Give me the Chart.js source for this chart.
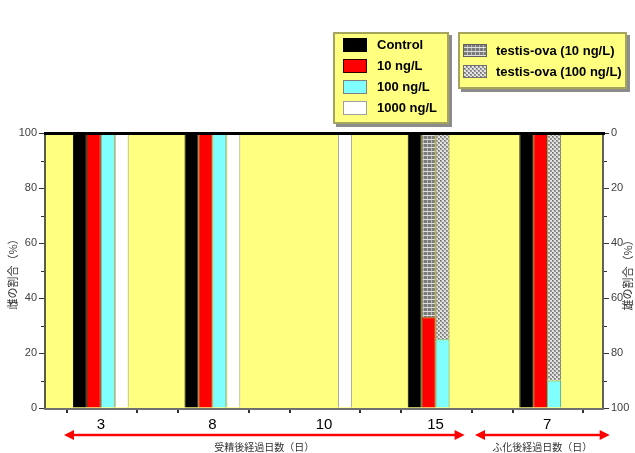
<!DOCTYPE html>
<html><head><meta charset="utf-8">
<script src="https://cdn.jsdelivr.net/npm/chart.js@4"></script>
<style>html,body{margin:0;padding:0;background:#fff;} canvas{display:block;}</style>
</head><body>
<canvas id="c" width="635" height="453"></canvas>
<script>
// ---- data ----
const categories = ['3', '8', '10', '15', '7'];
const controlValues = [100, 100, null, 100, 100];
const ng10Values = [100, 100, null, 33, 100];
const testisOva10Values = [null, null, null, 67, null];
const ng100Values = [100, 100, null, 25, 10];
const testisOva100Values = [null, null, null, 75, 90];
const ng1000Values = [100, 100, 100, null, null];
const leftTickValues = [0, 20, 40, 60, 80, 100];
const rightTickValues = [0, 20, 40, 60, 80, 100];
const seriesLabels = ['Control', '10 ng/L', 'testis-ova (10 ng/L)', '100 ng/L', 'testis-ova (100 ng/L)', '1000 ng/L'];
const leftAxisTitle = '雌の割合（%）';
const rightAxisTitle = '雄の割合（%）';
const periodLabels = ['受精後経過日数（日）', 'ふ化後経過日数（日）'];

// ---- styles ----
const canvas = document.getElementById('c');
const mainCtx = canvas.getContext('2d');
function makePattern(draw) {
  const c = document.createElement('canvas'); c.width = 4; c.height = 4;
  const g = c.getContext('2d'); draw(g);
  return mainCtx.createPattern(c, 'repeat');
}
const gridPattern = makePattern(g => {
  g.fillStyle = '#7a7a7a'; g.fillRect(0, 0, 4, 4);
  g.fillStyle = '#b4b4b4'; g.fillRect(3, 0, 1, 4);
  g.fillStyle = '#e0e0e0'; g.fillRect(0, 3, 4, 1);
});
const checkPattern = makePattern(g => {
  g.fillStyle = '#e2e2e2'; g.fillRect(0, 0, 4, 4);
  g.fillStyle = '#9a9a9a'; g.fillRect(0, 0, 2, 2); g.fillRect(2, 2, 2, 2);
  g.fillStyle = '#6e6e6e'; g.fillRect(0, 0, 1, 1); g.fillRect(2, 2, 1, 1);
});
const YELLOW = '#ffff80';
const LATIN = '"Liberation Sans", Arial, sans-serif';
const CJK = '"Noto Sans CJK JP", sans-serif';

const fills = ['#000000', '#ff0000', gridPattern, '#80ffff', checkPattern, '#ffffff'];
const borders = ['#000000', '#8a0000', '#505050', '#40a0a0', '#707070', '#a0a0a0'];
const swatchBorders = ['#000000', '#300000', '#606060', '#808080', '#707070', '#a0a0a0'];
const stacks = ['s1', 's2', 's2', 's3', 's3', 's4'];
const seriesData = [controlValues, ng10Values, testisOva10Values, ng100Values, testisOva100Values, ng1000Values];

const datasets = seriesData.map((d, i) => ({
  label: seriesLabels[i], data: d, stack: stacks[i],
  backgroundColor: fills[i], borderColor: borders[i], borderWidth: 1
}));

function drawBox(ctx, x, y, w, h) {
  ctx.fillStyle = '#8c8c8c'; ctx.fillRect(x + 3, y + 3, w, h);
  ctx.fillStyle = YELLOW; ctx.fillRect(x, y, w, h);
  ctx.strokeStyle = '#a4a45c'; ctx.lineWidth = 2; ctx.strokeRect(x + 1, y + 1, w - 2, h - 2);
}
function drawArrow(ctx, x1, x2, y) {
  ctx.strokeStyle = '#ffc8c8'; ctx.lineWidth = 4;
  ctx.beginPath(); ctx.moveTo(x1 + 6, y); ctx.lineTo(x2 - 6, y); ctx.stroke();
  ctx.strokeStyle = '#ff0000'; ctx.fillStyle = '#ff0000'; ctx.lineWidth = 2;
  ctx.beginPath(); ctx.moveTo(x1 + 6, y); ctx.lineTo(x2 - 6, y); ctx.stroke();
  ctx.beginPath(); ctx.moveTo(x1, y); ctx.lineTo(x1 + 10, y - 5); ctx.lineTo(x1 + 10, y + 5); ctx.closePath(); ctx.fill();
  ctx.beginPath(); ctx.moveTo(x2, y); ctx.lineTo(x2 - 10, y - 5); ctx.lineTo(x2 - 10, y + 5); ctx.closePath(); ctx.fill();
}

const decor = {
  id: 'decor',
  beforeDatasetsDraw(chart) {
    const {ctx, chartArea: a} = chart;
    ctx.save(); ctx.fillStyle = YELLOW; ctx.fillRect(a.left, a.top, a.right - a.left, a.bottom - a.top); ctx.restore();
  },
  afterDatasetsDraw(chart) {
    const {ctx, chartArea: a, scales} = chart;
    ctx.save();
    ctx.fillStyle = '#5c5c40'; ctx.fillRect(a.left - 1, a.top, 2, a.bottom - a.top + 2);
    ctx.fillStyle = '#606060'; ctx.fillRect(a.right - 1, a.top, 2, a.bottom - a.top + 2);
    ctx.fillStyle = '#707070'; ctx.fillRect(a.left - 1, a.bottom, a.right - a.left + 2, 2);
    ctx.fillStyle = '#000000'; ctx.fillRect(a.left - 1, a.top - 1, a.right - a.left + 3, 3);
    ctx.fillStyle = '#303030';
    [10, 30, 50, 70, 90].forEach(v => {
      const py = Math.round(scales.y.getPixelForValue(v));
      ctx.fillRect(a.left - 4, py, 3, 1);
      ctx.fillRect(a.right + 1, py, 3, 1);
    });
    const w = (a.right - a.left) / categories.length;
    categories.forEach((c, i) => {
      const cx = scales.x.getPixelForValue(i);
      [-0.315, 0.315].forEach(f => ctx.fillRect(Math.round(cx + f * w), a.bottom + 2, 2, 3));
    });
    ctx.restore();
  },
  afterDraw(chart) {
    const {ctx, chartArea: a, scales} = chart;
    const w = (a.right - a.left) / categories.length;
    ctx.save();
    const x0 = scales.x.getPixelForValue(0), x3 = scales.x.getPixelForValue(3), x4 = scales.x.getPixelForValue(4);
    const L1 = x0 - 0.33 * w, R1 = x3 + 0.26 * w, L2 = x4 - 0.647 * w, R2 = x4 + 0.56 * w;
    drawArrow(ctx, L1, R1, 435);
    drawArrow(ctx, L2, R2, 435);
    ctx.fillStyle = '#333333'; ctx.font = '10px ' + CJK; ctx.textAlign = 'center'; ctx.textBaseline = 'middle';
    ctx.fillText(periodLabels[0], (L1 + R1) / 2, 447);
    ctx.fillText(periodLabels[1], (L2 + R2) / 2, 447);
    ctx.font = '11px ' + CJK; ctx.fillStyle = '#333333';
    ctx.save(); ctx.translate(13, (a.top + a.bottom) / 2 + 1); ctx.rotate(-Math.PI / 2); ctx.fillText(leftAxisTitle, 0, 0); ctx.restore();
    ctx.save(); ctx.translate(628, (a.top + a.bottom) / 2 + 2); ctx.rotate(-Math.PI / 2); ctx.fillText(rightAxisTitle, 0, 0); ctx.restore();
    drawBox(ctx, 333, 32, 116, 92);
    drawBox(ctx, 458, 32, 169, 57);
    ctx.font = 'bold 13px ' + LATIN; ctx.textAlign = 'left'; ctx.textBaseline = 'middle';
    const box1 = [0, 1, 3, 5], box2 = [2, 4];
    box1.forEach((k, j) => {
      const y = 38 + j * 21;
      ctx.fillStyle = fills[k]; ctx.fillRect(343, y, 24, 14);
      ctx.strokeStyle = swatchBorders[k]; ctx.lineWidth = 1; ctx.strokeRect(343.5, y + 0.5, 23, 13);
      ctx.fillStyle = '#000000'; ctx.fillText(chart.data.datasets[k].label, 377, y + 7.5);
    });
    box2.forEach((k, j) => {
      const y = 44 + j * 21;
      ctx.fillStyle = fills[k]; ctx.fillRect(463, y, 24, 13);
      ctx.strokeStyle = swatchBorders[k]; ctx.lineWidth = 1; ctx.strokeRect(463.5, y + 0.5, 23, 12);
      ctx.fillStyle = '#000000'; ctx.fillText(chart.data.datasets[k].label, 496, y + 7);
    });
    ctx.restore();
  }
};

new Chart(canvas, {
  type: 'bar',
  data: { labels: categories, datasets },
  options: {
    responsive: false, devicePixelRatio: 1, animation: false,
    layout: { padding: { top: 133, left: 0, right: 0, bottom: 0 } },
    plugins: { legend: { display: false }, tooltip: { enabled: false } },
    datasets: { bar: { categoryPercentage: 0.5, barPercentage: 1 } },
    scales: {
      x: {
        stacked: true,
        grid: { display: false, drawTicks: false }, border: { display: false },
        ticks: { color: '#000000', font: { size: 15, family: LATIN }, padding: 8, maxRotation: 0, autoSkip: false },
        afterFit(s) { s.height = 45; }
      },
      y: {
        stacked: true, position: 'left', min: 0, max: 100,
        afterBuildTicks(s) { s.ticks = leftTickValues.map(v => ({ value: v })); },
        ticks: { color: '#404040', font: { size: 11, family: LATIN }, padding: 2 },
        grid: { drawOnChartArea: false, tickLength: 6, color: '#303030' }, border: { display: false },
        afterFit(s) { s.width = 45; }
      },
      y1: {
        position: 'right', reverse: true, min: 0, max: 100,
        afterBuildTicks(s) { s.ticks = rightTickValues.map(v => ({ value: v })); },
        ticks: { color: '#404040', font: { size: 11, family: LATIN }, padding: 2 },
        grid: { drawOnChartArea: false, tickLength: 6, color: '#303030' }, border: { display: false },
        afterFit(s) { s.width = 32; }
      }
    }
  },
  plugins: [decor]
});
</script>
</body></html>
